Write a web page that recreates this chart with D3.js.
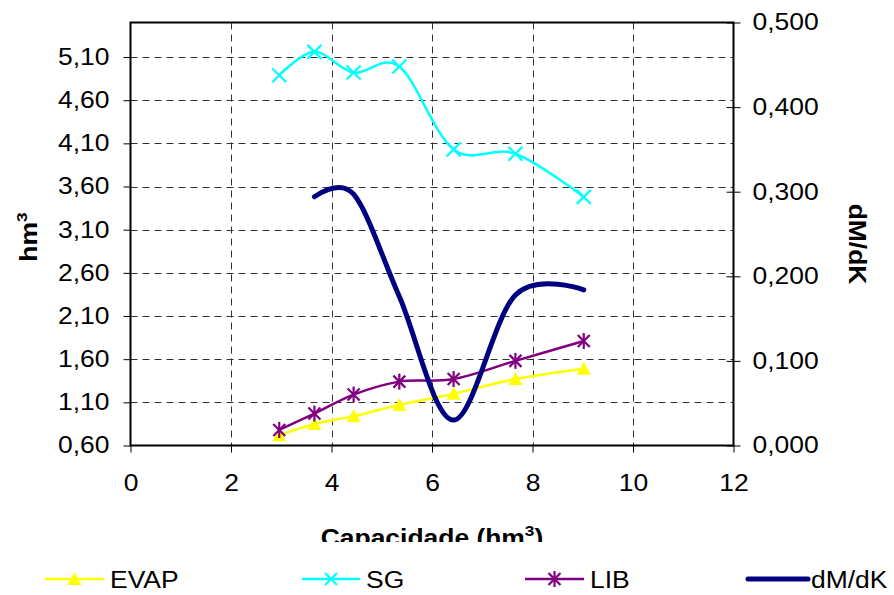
<!DOCTYPE html>
<html>
<head>
<meta charset="utf-8">
<script src="https://cdn.jsdelivr.net/npm/d3@7"></script>
<style>
  html, body { margin: 0; padding: 0; background: #fff; }
  svg { display: block; font-family: "Liberation Sans", Arial, sans-serif; }
</style>
</head>
<body>
<svg id="chart" width="894" height="595"></svg>
<script>
// Reservoir capacity (hm³) for each simulated case
const capacity = [2.96, 3.66, 4.44, 5.35, 6.43, 7.66, 9.02];
// Volumes (hm³) on the left axis
const evap = [0.72, 0.85, 0.94, 1.07, 1.20, 1.37, 1.49];
const sg   = [4.89, 5.16, 4.92, 4.99, 4.03, 3.98, 3.48];
const lib  = [0.78, 0.97, 1.19, 1.34, 1.37, 1.58, 1.81];
// Marginal derivative dM/dK on the right axis (no value for the first capacity)
const dmdk = [null, 0.294, 0.297, 0.176, 0.030, 0.178, 0.184];

const xTicks = [0, 2, 4, 6, 8, 10, 12];
const leftTicks = [0.6, 1.1, 1.6, 2.1, 2.6, 3.1, 3.6, 4.1, 4.6, 5.1];
const rightTicks = [0, 0.1, 0.2, 0.3, 0.4, 0.5];

const svg = d3.select("#chart");
const plot = { left: 130.5, right: 733.5, top: 22.5, bottom: 445.5 };

const x = d3.scaleLinear().domain([0, 12]).range([plot.left, plot.right]);
const yL = d3.scaleLinear().domain([0.6, 5.5]).range([plot.bottom, plot.top]);
const yR = d3.scaleLinear().domain([0, 0.5]).range([plot.bottom, plot.top]);

const fmt2 = v => d3.format(".2f")(v).replace(".", ",");
const fmt3 = v => d3.format(".3f")(v).replace(".", ",");
const FS = 23;
const STRETCH = 1.15;

// widen glyphs of a plain text element along its baseline
function widen(sel) {
  sel.each(function () {
    const w = this.getComputedTextLength();
    d3.select(this).attr("textLength", w * STRETCH).attr("lengthAdjust", "spacingAndGlyphs");
  });
}

// dashed grid
const grid = svg.append("g").attr("stroke", "#333").attr("stroke-width", 1)
  .attr("stroke-dasharray", "7,5");
grid.selectAll("line.h").data(leftTicks.slice(1)).join("line")
  .attr("x1", plot.left).attr("x2", plot.right)
  .attr("y1", d => Math.round(yL(d)) + 0.5).attr("y2", d => Math.round(yL(d)) + 0.5);
grid.selectAll("line.v").data(xTicks.slice(1, -1)).join("line")
  .attr("y1", plot.top).attr("y2", plot.bottom)
  .attr("x1", d => Math.round(x(d)) + 0.5).attr("x2", d => Math.round(x(d)) + 0.5);

// axes
const axL = svg.append("g").attr("transform", `translate(${plot.left},0)`)
  .call(d3.axisLeft(yL).tickValues(leftTicks).tickFormat(fmt2).tickSize(7).tickPadding(14));
const axR = svg.append("g").attr("transform", `translate(${plot.right},0)`)
  .call(d3.axisRight(yR).tickValues(rightTicks).tickFormat(fmt3).tickSize(7).tickPadding(12));
const axB = svg.append("g").attr("transform", `translate(0,${plot.bottom})`)
  .call(d3.axisBottom(x).tickValues(xTicks).tickFormat(d => d).tickSize(7).tickPadding(22));
[axL, axR, axB].forEach(a => {
  a.select(".domain").remove();
  a.selectAll("line").attr("stroke", "#000").attr("stroke-width", 1);
  a.selectAll("text").attr("font-size", FS).attr("fill", "#000")
    .attr("font-family", "Liberation Sans, Arial, sans-serif")
    .call(widen);
});
// right-axis ticks cross the axis line
axR.selectAll(".tick line").attr("x1", -7);

// plot frame
svg.append("rect")
  .attr("x", plot.left).attr("y", plot.top)
  .attr("width", plot.right - plot.left).attr("height", plot.bottom - plot.top)
  .attr("fill", "none").attr("stroke", "#000").attr("stroke-width", 2);

// series
const curve = d3.curveCatmullRom.alpha(0);
const pts = arr => capacity.map((c, i) => [c, arr[i]]).filter(p => p[1] != null);

function drawLine(arr, yScale, color, width) {
  svg.append("path")
    .datum(pts(arr))
    .attr("fill", "none").attr("stroke", color).attr("stroke-width", width)
    .attr("stroke-linejoin", "round").attr("stroke-linecap", "round")
    .attr("d", d3.line().x(d => x(d[0])).y(d => yScale(d[1])).curve(curve));
}

function triangle(g, cx, cy, color) {
  g.append("path")
    .attr("d", `M${cx},${cy - 7} L${cx + 7},${cy + 6} L${cx - 7},${cy + 6} Z`)
    .attr("fill", color);
}
function cross(g, cx, cy, color, s) {
  g.append("path")
    .attr("d", `M${cx - s},${cy - s} L${cx + s},${cy + s} M${cx - s},${cy + s} L${cx + s},${cy - s}`)
    .attr("stroke", color).attr("stroke-width", 2.2).attr("fill", "none");
}
function star(g, cx, cy, color, s) {
  cross(g, cx, cy, color, s);
  g.append("path")
    .attr("d", `M${cx},${cy - s - 2} L${cx},${cy + s + 2}`)
    .attr("stroke", color).attr("stroke-width", 2.2);
}

// EVAP
drawLine(evap, yL, "#ffff00", 2.5);
const gE = svg.append("g");
pts(evap).forEach(p => triangle(gE, x(p[0]), yL(p[1]), "#ffff00"));

// SG
drawLine(sg, yL, "#00ffff", 2.5);
const gS = svg.append("g");
pts(sg).forEach(p => cross(gS, x(p[0]), yL(p[1]), "#00ffff", 7));

// LIB
drawLine(lib, yL, "#800080", 2.5);
const gL = svg.append("g");
pts(lib).forEach(p => star(gL, x(p[0]), yL(p[1]), "#800080", 6));

// dM/dK
drawLine(dmdk, yR, "#000080", 5);

// axis titles
const tl = svg.append("text")
  .attr("transform", `translate(37,237) rotate(-90) scale(${STRETCH},1)`)
  .attr("text-anchor", "middle").attr("font-size", FS).attr("font-weight", "bold");
tl.append("tspan").text("hm");
tl.append("tspan").attr("font-size", 15).attr("dy", -10).text("3");

svg.append("text")
  .attr("transform", `translate(849,244) rotate(90) scale(${STRETCH},1)`)
  .attr("text-anchor", "middle").attr("font-size", FS).attr("font-weight", "bold")
  .text("dM/dK");

svg.append("clipPath").attr("id", "titleClip")
  .append("rect").attr("x", 0).attr("y", 500).attr("width", 894).attr("height", 42);
const tb = svg.append("g").attr("clip-path", "url(#titleClip)")
  .append("text")
  .attr("transform", `translate(432,546) scale(${STRETCH},1)`)
  .attr("text-anchor", "middle").attr("font-size", FS).attr("font-weight", "bold");
tb.append("tspan").text("Capacidade (hm");
tb.append("tspan").attr("font-size", 15).attr("dy", -10).text("3");
tb.append("tspan").attr("dy", 10).text(")");

// legend
const legendY = 579;
const legendItems = [
  { name: "EVAP", color: "#ffff00", x0: 45, x1: 104, mark: "tri" },
  { name: "SG", color: "#00ffff", x0: 302, x1: 360, mark: "cross" },
  { name: "LIB", color: "#800080", x0: 525, x1: 584, mark: "star" },
  { name: "dM/dK", color: "#000080", x0: 748, x1: 808, mark: null }
];
const lg = svg.append("g");
legendItems.forEach(it => {
  lg.append("line").attr("x1", it.x0).attr("x2", it.x1)
    .attr("y1", legendY).attr("y2", legendY)
    .attr("stroke", it.color).attr("stroke-width", it.mark ? 2.5 : 5)
    .attr("stroke-linecap", it.mark ? "butt" : "round");
  const cx = (it.x0 + it.x1) / 2;
  if (it.mark === "tri") triangle(lg, cx, legendY, it.color);
  if (it.mark === "cross") cross(lg, cx, legendY, it.color, 6);
  if (it.mark === "star") star(lg, cx, legendY, it.color, 6);
  lg.append("text").attr("x", it.x1 + (it.mark ? 6 : 3)).attr("y", legendY + 9)
    .attr("font-size", FS).text(it.name).call(widen);
});
</script>
</body>
</html>
